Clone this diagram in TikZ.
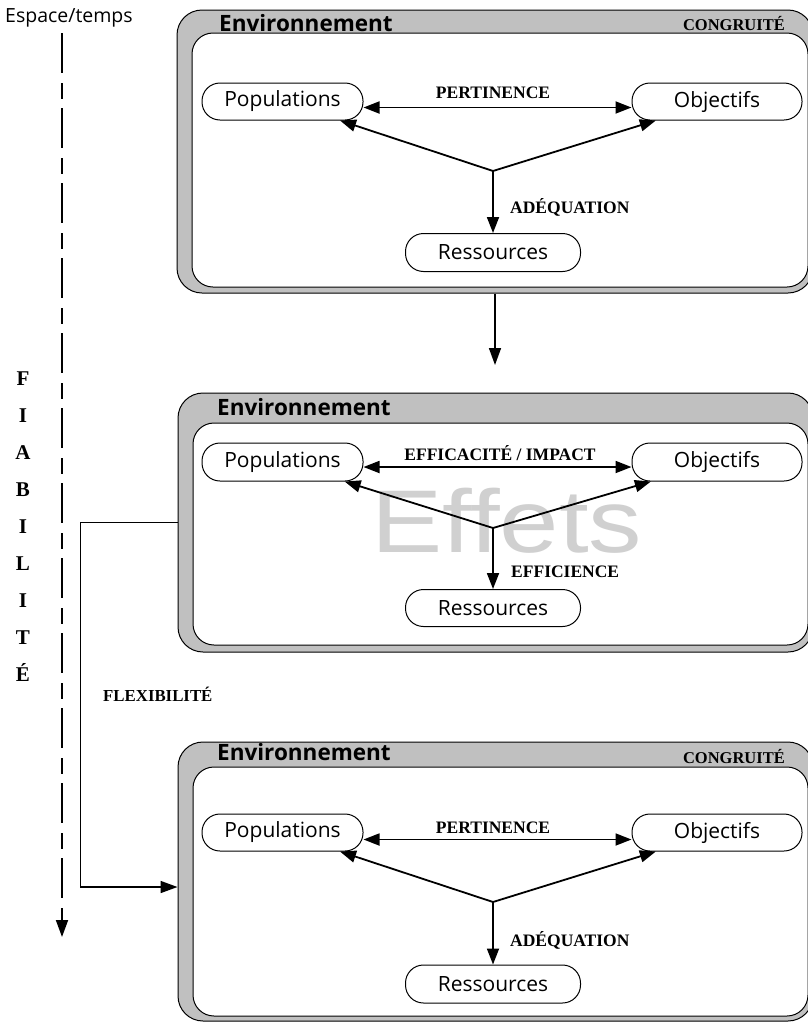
\documentclass[tikz,border=0pt]{standalone}
\usepackage{fontspec}
\setmainfont{Liberation Serif}
\newfontfamily\osans{Open Sans}
\newfontfamily\effetsfont[FakeStretch=1.2]{Liberation Sans}
\usetikzlibrary{arrows.meta}
\definecolor{envgray}{RGB}{192,192,192}
\definecolor{effgray}{RGB}{208,208,208}
\tikzset{
  envbox/.style={draw=black, line width=1pt, fill=envgray, rounded corners=25pt, inner sep=0pt},
  innerbox/.style={draw=black, line width=1pt, fill=white, rounded corners=21pt, inner sep=0pt},
  item/.style={draw=black, line width=1pt, fill=white, rounded corners=18pt, minimum height=37pt, inner sep=0pt, font=\fontsize{21}{24}\selectfont\osans},
  lbl/.style={font=\fontsize{17.5}{20}\selectfont\bfseries, inner sep=0pt, anchor=base west},
  head/.style={font=\fontsize{22.5}{26}\selectfont\osans\bfseries, inner sep=0pt, anchor=base west},
  conn/.style={line width=1.8pt, -{Triangle[length=16pt,width=12pt]}},
  dconn/.style={line width=1.8pt, {Triangle[length=16pt,width=12pt]}-{Triangle[length=16pt,width=12pt]}},
  fia/.style={font=\fontsize{21}{23}\selectfont\bfseries, inner sep=0pt, anchor=base}
}
\begin{document}
\begin{tikzpicture}[x=1pt,y=-1pt]
\useasboundingbox (0,0) rectangle (808,1023);

% time axis
\node[font=\fontsize{19.5}{22}\selectfont\osans, inner sep=0pt, anchor=base west] (esp) at (5,22) {Espace/temps};
\coordinate (ts) at (62,33);
\coordinate (te) at (62,937);
\draw[line width=1.8pt, dash pattern=on 40pt off 10pt on 16pt off 9pt, -{Triangle[length=17pt,width=12pt]}] (ts) -- (te);

\foreach \l [count=\i from 0] in {F,I,A,B,I,L,I,T,É}
  \node[fia] (fia\i) at (23,{385+37*\i}) {\l};

% ---------------- panel 1
\node[envbox, minimum width=636pt, minimum height=283pt] (env1) at (495,151.5) {};
\node[innerbox, minimum width=616pt, minimum height=254pt] (in1) at (500,160) {};
\node[head] (h1) at (219,31) {Environnement};
\node[lbl, anchor=base east, font=\fontsize{16.5}{20}\selectfont\bfseries] (cg1) at (785,30) {CONGRUITÉ};
\node[item, minimum width=161pt] (pop1) at (282.5,101.5) {Populations};
\node[item, minimum width=170pt] (obj1) at (717,101.5) {Objectifs};
\node[item, minimum width=175pt, minimum height=38pt] (res1) at (493,252.5) {Ressources};
\coordinate (j1) at (493,171);
\draw[dconn] ([yshift=-6pt]pop1.east) -- ([yshift=-6pt]obj1.west);
\node[lbl, anchor=base] (p1) at (493,98) {PERTINENCE};
\draw[conn] (j1) -- (pop1);
\draw[conn] (j1) -- (obj1);
\draw[conn] (j1) -- (res1);
\node[lbl] (a1) at (510,213) {ADÉQUATION};

\coordinate (a12) at (495,365);
\draw[line width=1.6pt, -{Triangle[length=17pt,width=12pt]}] (env1.south) -- (a12);

% ---------------- panel 2
\node[envbox, minimum width=635pt, minimum height=259pt] (env2) at (495.5,522.5) {};
\node[innerbox, minimum width=615pt, minimum height=222pt] (in2) at (500.5,534) {};
\node[head] (h2) at (217,415) {Environnement};
\node[font=\fontsize{89}{90}\selectfont\effetsfont, text=effgray, inner sep=0pt, anchor=base west] (eff) at (371,552) {Effets};
\node[item, minimum width=161pt, minimum height=38pt] (pop2) at (282.5,462) {Populations};
\node[item, minimum width=170pt, minimum height=38pt] (obj2) at (717,462) {Objectifs};
\node[item, minimum width=175pt] (res2) at (493,608) {Ressources};
\coordinate (j2) at (493,528);
\draw[dconn] ([yshift=-5pt]pop2.east) -- ([yshift=-5pt]obj2.west);
\node[lbl, anchor=base] (p2) at (500,460) {EFFICACITÉ / IMPACT};
\draw[conn] (j2) -- (pop2);
\draw[conn] (j2) -- (obj2);
\draw[conn] (j2) -- (res2);
\node[lbl] (a2) at (511,577) {EFFICIENCE};

% ---------------- panel 3
\node[envbox, minimum width=635pt, minimum height=279pt] (env3) at (495.5,881.5) {};
\node[innerbox, minimum width=615pt, minimum height=249pt] (in3) at (500.5,891.5) {};
\node[head] (h3) at (217,760) {Environnement};
\node[lbl, anchor=base east, font=\fontsize{16.5}{20}\selectfont\bfseries] (cg3) at (785,763) {CONGRUITÉ};
\node[item, minimum width=161pt] (pop3) at (282.5,832.5) {Populations};
\node[item, minimum width=170pt] (obj3) at (717,832.5) {Objectifs};
\node[item, minimum width=175pt, minimum height=38pt] (res3) at (493,984) {Ressources};
\coordinate (j3) at (493,902);
\draw[dconn] ([yshift=-7pt]pop3.east) -- ([yshift=-7pt]obj3.west);
\node[lbl, anchor=base] (p3) at (493,833) {PERTINENCE};
\draw[conn] (j3) -- (pop3);
\draw[conn] (j3) -- (obj3);
\draw[conn] (j3) -- (res3);
\node[lbl] (a3) at (510,946) {ADÉQUATION};

% flexibility link
\draw[line width=1.6pt, -{Triangle[length=17pt,width=12pt]}] (env2.west) -- ++(-97,0) |- ([yshift=-5.5pt]env3.west);
\node[lbl, font=\fontsize{16.8}{20}\selectfont\bfseries] (flex) at (103,701) {FLEXIBILITÉ};
\end{tikzpicture}
\end{document}
